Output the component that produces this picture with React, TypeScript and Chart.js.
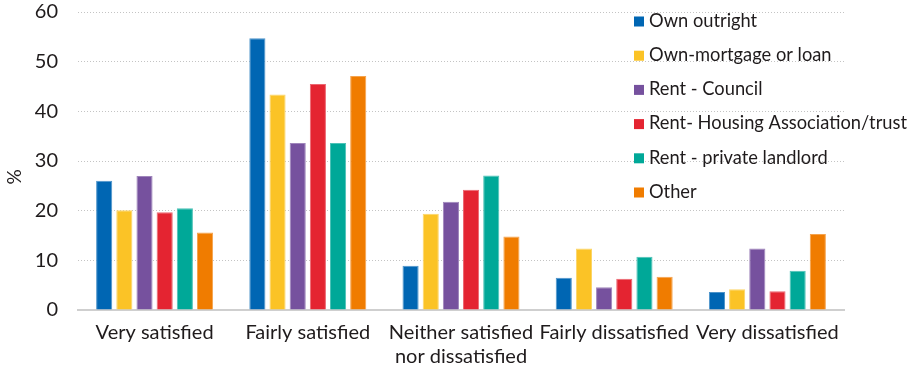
import React, { useEffect, useRef } from "react";
import { Chart, registerables } from "chart.js";

Chart.register(...registerables);

const categories: (string | string[])[] = [
  "Very satisfied",
  "Fairly satisfied",
  ["Neither satisfied", "nor dissatisfied"],
  "Fairly dissatisfied",
  "Very dissatisfied",
];

const seriesNames = [
  "Own outright",
  "Own-mortgage or loan",
  "Rent - Council",
  "Rent- Housing Association/trust",
  "Rent - private landlord",
  "Other",
];

const ownOutright = [26.0, 54.7, 8.9, 6.5, 3.6];
const ownMortgage = [20.1, 43.4, 19.4, 12.4, 4.2];
const rentCouncil = [27.0, 33.6, 21.8, 4.6, 12.4];
const rentHousingAssoc = [19.7, 45.5, 24.2, 6.3, 3.8];
const rentPrivate = [20.5, 33.6, 27.1, 10.7, 7.9];
const other = [15.6, 47.1, 14.8, 6.7, 15.3];

const yTicks = [0, 10, 20, 30, 40, 50, 60];

const colors = ["#0066b3", "#fbc326", "#76519e", "#e42431", "#00a898", "#f07c00"];
const borders = ["#4d94ca", "#fcd567", "#9f85bb", "#ec6670", "#4dc2b7", "#f5a34d"];

const FONT = "Lato, 'Open Sans', sans-serif";
const TEXT = "#1f1b1c";

export default function App() {
  const ref = useRef<HTMLCanvasElement | null>(null);

  useEffect(() => {
    if (!ref.current) return;
    const allSeries = [ownOutright, ownMortgage, rentCouncil, rentHousingAssoc, rentPrivate, other];

    const legendPlugin = {
      id: "customLegend",
      afterDraw(chart: any) {
        const ctx = chart.ctx;
        ctx.save();
        ctx.font = `18.3px ${FONT}`;
        ctx.textBaseline = "middle";
        ctx.textAlign = "left";
        seriesNames.forEach((name, i) => {
          const cy = 21 + i * 34.2;
          ctx.fillStyle = colors[i];
          ctx.fillRect(634, cy - 4.5, 10, 10);
          ctx.fillStyle = TEXT;
          ctx.fillText(name, 649, cy);
        });
        // y-axis title
        ctx.translate(15, 177);
        ctx.rotate(-Math.PI / 2);
        ctx.textAlign = "center";
        ctx.textBaseline = "middle";
        ctx.font = `19px ${FONT}`;
        ctx.fillText("%", 0, 0);
        ctx.restore();
      },
    };

    const chart = new Chart(ref.current, {
      type: "bar",
      data: {
        labels: categories as any,
        datasets: seriesNames.map((name, i) => ({
          label: name,
          data: allSeries[i],
          backgroundColor: colors[i],
          borderColor: borders[i],
          borderWidth: 1,
          categoryPercentage: 0.79,
          barPercentage: 0.8,
        })),
      },
      options: {
        animation: false,
        responsive: true,
        maintainAspectRatio: false,
        layout: { padding: { left: 0, right: 66, top: 12, bottom: 0 } },
        plugins: {
          legend: { display: false },
          tooltip: { enabled: false },
        },
        scales: {
          x: {
            grid: { display: false, drawTicks: false },
            border: { display: true, color: "#cfcfcf", width: 2 },
            ticks: {
              color: TEXT,
              font: { family: FONT, size: 20 },
              padding: 11,
              maxRotation: 0,
              autoSkip: false,
            },
            afterFit(scale: any) {
              scale.height = 61;
              scale.paddingLeft = 0;
              scale.paddingRight = 0;
            },
          },
          y: {
            min: 0,
            max: 60,
            afterBuildTicks(scale: any) {
              scale.ticks = yTicks.map((v) => ({ value: v }));
            },
            grid: {
              drawTicks: false,
              color: "#c4c4c4",
              lineWidth: 1,
            },
            border: { display: false, dash: [1, 2] },
            ticks: {
              color: TEXT,
              font: { family: FONT, size: 20 },
              padding: 20,
            },
            afterFit(scale: any) {
              scale.width = 78;
              scale.paddingTop = 0;
              scale.paddingBottom = 0;
            },
          },
        },
      },
      plugins: [
        legendPlugin,
        {
          id: "dotGrid",
          beforeDraw(chart: any) {
            const g = chart.options.scales.y.grid;
            g.borderDash = [1, 2];
          },
        },
      ],
    });
    return () => chart.destroy();
  }, []);

  return (
    <div style={{ position: "fixed", left: 0, top: 0, width: 910, height: 371, background: "#fff" }}>
      <canvas ref={ref} />
    </div>
  );
}
